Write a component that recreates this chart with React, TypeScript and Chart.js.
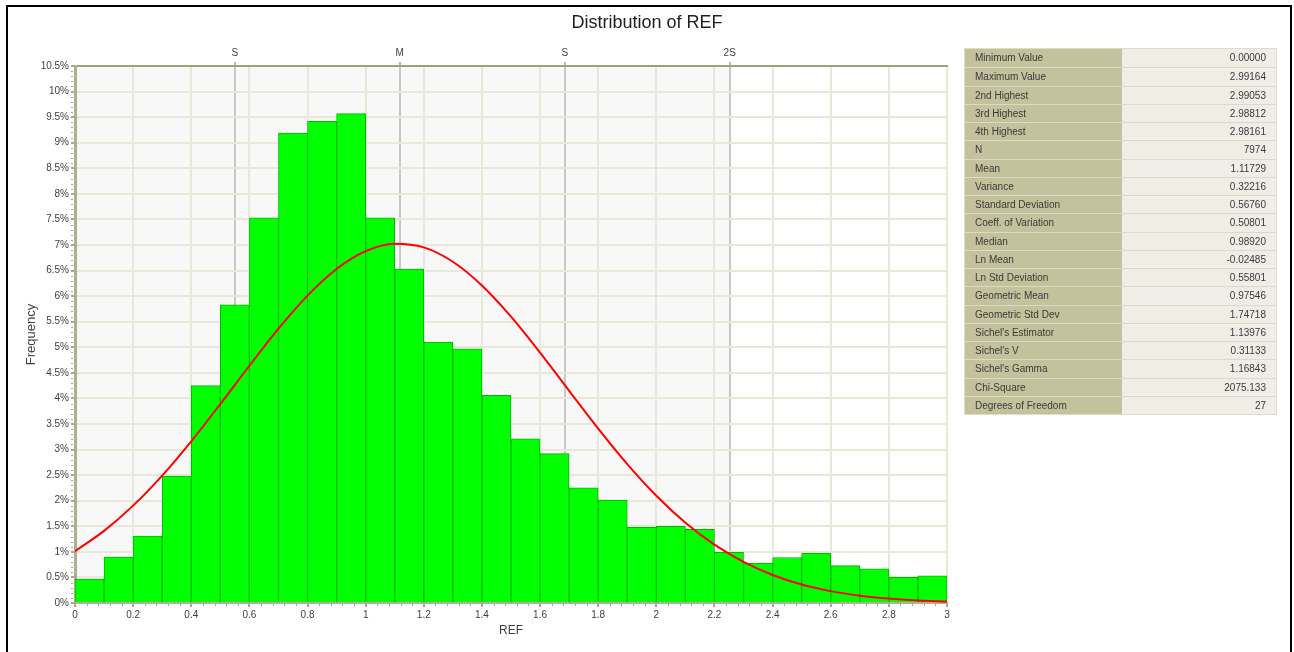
import React, { useEffect, useRef } from 'react';
import { Chart, registerables } from 'chart.js';

Chart.register(...registerables);

// Histogram bins (centres of 0.1-wide bins) and frequency in percent
const binCenters = [0.05, 0.15, 0.25, 0.35, 0.45, 0.55, 0.65, 0.75, 0.85, 0.95, 1.05, 1.15, 1.25, 1.35, 1.45, 1.55, 1.65, 1.75, 1.85, 1.95, 2.05, 2.15, 2.25, 2.35, 2.45, 2.55, 2.65, 2.75, 2.85, 2.95];
const binFrequency = [0.47, 0.90, 1.31, 2.48, 4.25, 5.83, 7.53, 9.19, 9.42, 9.57, 7.53, 6.53, 5.10, 4.97, 4.06, 3.21, 2.92, 2.25, 2.01, 1.48, 1.50, 1.44, 0.99, 0.78, 0.89, 0.97, 0.73, 0.67, 0.50, 0.53];

// Fitted curve
const curveX = [0, 0.1, 0.2, 0.3, 0.4, 0.5, 0.6, 0.7, 0.8, 0.9, 1.0, 1.1, 1.2, 1.3, 1.4, 1.5, 1.6, 1.7, 1.8, 1.9, 2.0, 2.1, 2.2, 2.3, 2.4, 2.5, 2.6, 2.7, 2.8, 2.9, 3.0];
const curveY = [1.013, 1.41, 1.904, 2.492, 3.162, 3.89, 4.639, 5.364, 6.011, 6.531, 6.879, 7.025, 6.954, 6.673, 6.208, 5.599, 4.895, 4.149, 3.409, 2.716, 2.097, 1.57, 1.14, 0.802, 0.547, 0.361, 0.232, 0.144, 0.087, 0.051, 0.029];

// Top axis markers (mean / std dev positions)
const topMarkValues = [0.54969, 1.11729, 1.68489, 2.25249];
const topMarkLabels = ['S', 'M', 'S', '2S'];
const bandRange = [-0.01791, 2.25249];

// Statistics table
const statLabels = ['Minimum Value', 'Maximum Value', '2nd Highest', '3rd Highest', '4th Highest', 'N', 'Mean', 'Variance', 'Standard Deviation', 'Coeff. of Variation', 'Median', 'Ln Mean', 'Ln Std Deviation', 'Geometric Mean', 'Geometric Std Dev', "Sichel's Estimator", "Sichel's V", "Sichel's Gamma", 'Chi-Square', 'Degrees of Freedom'];
const statValues = ['0.00000', '2.99164', '2.99053', '2.98812', '2.98161', '7974', '1.11729', '0.32216', '0.56760', '0.50801', '0.98920', '-0.02485', '0.55801', '0.97546', '1.74718', '1.13976', '0.31133', '1.16843', '2075.133', '27'];

const chartTitle = 'Distribution of REF';

const FONT = "'Liberation Sans', Arial, sans-serif";

const bandPlugin = {
  id: 'bandPlugin',
  beforeDraw(chart: any) {
    const { ctx, chartArea, scales } = chart;
    const x = scales.x;
    const x0 = Math.max(chartArea.left, x.getPixelForValue(bandRange[0]));
    const x1 = Math.min(chartArea.right, x.getPixelForValue(bandRange[1]));
    ctx.save();
    ctx.fillStyle = '#f8f8f8';
    ctx.fillRect(x0, chartArea.top, x1 - x0, chartArea.bottom - chartArea.top);
    ctx.restore();
  },
};

const minorTicksPlugin = {
  id: 'minorTicks',
  afterDraw(chart: any) {
    const { ctx, scales } = chart;
    const x = scales.x;
    const y = scales.y;
    ctx.save();
    ctx.strokeStyle = '#a9a98e';
    ctx.lineWidth = 1;
    ctx.beginPath();
    for (let i = 0; i <= 105; i++) {
      if (i % 5 === 0) continue;
      const py = Math.round(y.getPixelForValue(i / 10)) + 0.5;
      ctx.moveTo(y.right - 4, py);
      ctx.lineTo(y.right - 2, py);
    }
    for (let i = 0; i <= 75; i++) {
      if (i % 5 === 0) continue;
      const px = Math.round(x.getPixelForValue(i * 0.04)) + 0.5;
      ctx.moveTo(px, x.top + 1);
      ctx.lineTo(px, x.top + 3);
    }
    ctx.stroke();
    ctx.restore();
  },
};

function HistogramChart() {
  const canvasRef = useRef<HTMLCanvasElement | null>(null);

  useEffect(() => {
    const canvas = canvasRef.current;
    if (!canvas) return;
    const chart = new Chart(canvas, {
      type: 'bar',
      data: {
        datasets: [
          {
            type: 'line',
            label: 'Normal fit',
            data: curveX.map((v, i) => ({ x: v, y: curveY[i] })),
            borderColor: '#ff0000',
            borderWidth: 2,
            pointRadius: 0,
            cubicInterpolationMode: 'monotone',
            fill: false,
            order: 1,
            xAxisID: 'x',
            yAxisID: 'y',
          } as any,
          {
            type: 'bar',
            label: 'Frequency',
            data: binCenters.map((v, i) => ({ x: v, y: binFrequency[i] })),
            backgroundColor: '#00ff00',
            borderColor: '#00b800',
            borderWidth: 1,
            barPercentage: 1,
            categoryPercentage: 1,
            order: 2,
            xAxisID: 'x',
            yAxisID: 'y',
          } as any,
        ],
      },
      options: {
        responsive: false,
        animation: false,
        devicePixelRatio: 1,
        layout: { padding: { left: 0, right: 347, top: 0, bottom: 0 } },
        plugins: {
          legend: { display: false },
          tooltip: { enabled: false },
          title: { display: false },
        },
        scales: {
          x: {
            type: 'linear',
            position: 'bottom',
            min: 0,
            max: 3,
            offset: false,
            afterFit: (s: any) => { s.height = 49; },
            ticks: {
              stepSize: 0.2,
              color: '#404040',
              font: { family: FONT, size: 10 },
              padding: 2,
              maxRotation: 0,
              callback: (v: any) => String(Number(Number(v).toFixed(1))),
            },
            grid: { color: '#e8e8da', lineWidth: 2, tickLength: 4, tickColor: '#a9a98e', offset: false },
            border: { color: '#b0b096', width: 2 },
            title: {
              display: true,
              text: 'REF',
              color: '#404040',
              font: { family: FONT, size: 12 },
              padding: { top: 0, bottom: 14 },
            },
          },
          x2: {
            type: 'linear',
            position: 'top',
            min: 0,
            max: 3,
            offset: false,
            afterFit: (s: any) => { s.height = 66; },
            afterBuildTicks: (s: any) => { s.ticks = topMarkValues.map((v) => ({ value: v })); },
            ticks: {
              autoSkip: false,
              maxRotation: 0,
              color: '#404040',
              font: { family: FONT, size: 10 },
              padding: 3,
              callback: (_v: any, i: number) => topMarkLabels[i],
            },
            grid: { color: '#c8c8c8', lineWidth: 2, tickLength: 4, tickColor: '#b8b8b8', offset: false },
            border: { color: '#a0a07a', width: 2 },
          },
          y: {
            type: 'linear',
            position: 'left',
            min: 0,
            max: 10.5,
            afterFit: (s: any) => { s.width = 75; },
            ticks: {
              stepSize: 0.5,
              color: '#404040',
              font: { family: FONT, size: 10 },
              padding: 2,
              callback: (v: any) => `${Number(Number(v).toFixed(1))}%`,
            },
            grid: { color: '#e8e8da', lineWidth: 2, tickLength: 4, tickColor: '#a9a98e' },
            border: { color: '#aeae92', width: 3 },
            title: {
              display: true,
              text: 'Frequency',
              color: '#404040',
              font: { family: FONT, size: 13 },
              padding: { top: 24, bottom: 0 },
            },
          },
        },
      } as any,
      plugins: [bandPlugin, minorTicksPlugin],
    });
    return () => chart.destroy();
  }, []);

  return (
    <canvas
      ref={canvasRef}
      width={1294}
      height={652}
      style={{ position: 'absolute', left: 0, top: 0, width: 1294, height: 652 }}
    />
  );
}

function StatsTable() {
  const rowH = 18.25;
  return (
    <div
      style={{
        position: 'absolute',
        left: 964,
        top: 48,
        width: 313,
        border: '1px solid #deddc8',
        fontFamily: FONT,
        fontSize: 10,
        color: '#3a3a3a',
        boxSizing: 'border-box',
      }}
    >
      {statLabels.map((label, i) => (
        <div key={label} style={{ display: 'flex', height: rowH, boxSizing: 'border-box', borderTop: i === 0 ? 'none' : '1px solid #dcdac6' }}>
          <div style={{ width: 157, background: '#c4c19d', paddingLeft: 10, lineHeight: `${rowH - 1}px`, boxSizing: 'border-box', whiteSpace: 'nowrap' }}>{label}</div>
          <div style={{ flex: 1, background: '#efeee6', paddingRight: 10, textAlign: 'right', lineHeight: `${rowH - 1}px`, boxSizing: 'border-box' }}>{statValues[i]}</div>
        </div>
      ))}
    </div>
  );
}

export default function App() {
  return (
    <div style={{ position: 'fixed', left: 0, top: 0, width: 1294, height: 652, overflow: 'hidden', background: '#ffffff' }}>
      <div
        style={{
          position: 'absolute',
          left: 6,
          top: 5,
          width: 1288 - 6,
          height: 700,
          borderTop: '2px solid #000',
          borderLeft: '2px solid #000',
          borderRight: '2px solid #000',
        }}
      />
      <HistogramChart />
      <div
        style={{
          position: 'absolute',
          left: 0,
          top: 12,
          width: 1294,
          textAlign: 'center',
          fontFamily: FONT,
          fontSize: 18,
          lineHeight: '20px',
          color: '#1e1e1e',
        }}
      >
        {chartTitle}
      </div>
      <StatsTable />
    </div>
  );
}
